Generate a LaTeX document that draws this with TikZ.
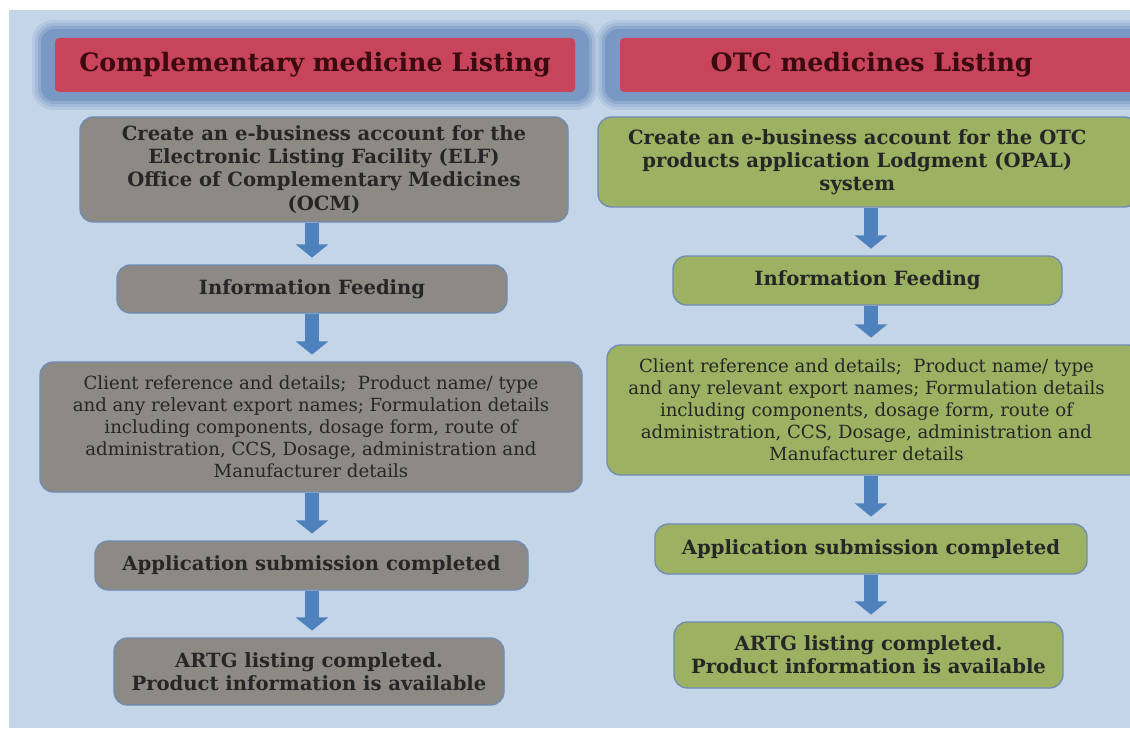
\documentclass[tikz,border=0pt]{standalone}
\usepackage{fontspec}
\setmainfont{DejaVu Serif}
\usetikzlibrary{arrows.meta}
\tikzset{every picture/.style={line width=0.75pt}}

\definecolor{bgblue}{RGB}{197,213,232}
\definecolor{glowblue}{RGB}{112,146,192}
\definecolor{titlered}{RGB}{200,68,90}
\definecolor{titletext}{RGB}{58,10,16}
\definecolor{stepgray}{RGB}{141,138,134}
\definecolor{stepgreen}{RGB}{156,178,98}
\definecolor{edgeblue}{RGB}{110,140,180}
\definecolor{arrowblue}{RGB}{79,129,189}

\tikzset{
  titlebox/.style={fill=titlered, rounded corners=3pt, inner sep=0pt, text=titletext,
    font=\fontsize{19}{22}\selectfont\bfseries},
  graybox/.style={fill=stepgray, draw=edgeblue, line width=1pt, rounded corners=10pt, inner sep=0pt,
    align=center, text=black!85},
  greenbox/.style={graybox, fill=stepgreen},
  boldtxt/.style={font=\fontsize{14.7}{17.3}\selectfont\bfseries},
  plaintxt/.style={font=\fontsize{13.6}{16.5}\selectfont},
  flow/.style={draw=arrowblue, line width=10pt, shorten >=5pt,
    -{Triangle[length=10pt,width=24pt,fill=arrowblue]}}
}

\begin{document}
\begin{tikzpicture}[x=0.75pt,y=0.75pt,yscale=-1,xscale=1]
\useasboundingbox (0,0) rectangle (1130,734);
\clip (0,0) rectangle (1130,734);
% background panel
\fill[bgblue] (9,10) rectangle (1130,728);

% title glows, outer layers first
\foreach \g/\m/\r in {4/20/16, 7/40/14, 10/65/12, 13/90/10}{
  \fill[glowblue!\m!bgblue, rounded corners=\r pt] (28+\g,16+\g) rectangle (602-\g,114-\g);
  \fill[glowblue!\m!bgblue, rounded corners=\r pt] (592+\g,16+\g) rectangle (1160,114-\g);
}

% titles
\node[titlebox, minimum width=390pt, minimum height=40.5pt] (t1) at (315,65) {Complementary medicine Listing};
\node[titlebox, minimum width=397.5pt, minimum height=40.5pt] (t2) at (885,65) {\hspace*{-20pt}OTC medicines Listing};

% left column
\node[graybox, boldtxt, minimum width=366pt, minimum height=78.75pt] (l1) at (324,169.5)
  {Create an e-business account for the\\Electronic Listing Facility (ELF)\\Office of Complementary Medicines\\(OCM)};
\node[graybox, boldtxt, minimum width=292.5pt, minimum height=36pt] (l2) at (312,289) {Information Feeding};
\node[graybox, plaintxt, minimum width=406.5pt, minimum height=97.5pt] (l3) at (311,427)
  {Client reference and details;\ \ Product name/\ type\\and any relevant export names;\ Formulation details\\including components, dosage form, route of\\administration, CCS, Dosage, administration and\\Manufacturer\ details};
\node[graybox, boldtxt, minimum width=324.75pt, minimum height=36.75pt] (l4) at (311.5,565.5) {Application submission completed};
\node[graybox, boldtxt, minimum width=292.5pt, minimum height=50.25pt] (l5) at (309,671.5)
  {ARTG listing completed.\\Product information is available};

% right column
\node[greenbox, boldtxt, minimum width=405pt, minimum height=67.5pt] (r1) at (868,162)
  {\hspace*{-16pt}Create an e-business account for the OTC\\\hspace*{-16pt}products application Lodgment (OPAL)\\\hspace*{-16pt}system};
\node[greenbox, boldtxt, minimum width=291.75pt, minimum height=36.75pt] (r2) at (867.5,280.5) {Information Feeding};
\node[greenbox, plaintxt, minimum width=401.25pt, minimum height=97.5pt] (r3) at (874.5,410)
  {\hspace*{-12pt}Client reference and details;\ \ Product name/\ type\\\hspace*{-12pt}and any relevant export names;\ Formulation details\\\hspace*{-12pt}including components, dosage form, route of\\\hspace*{-12pt}administration, CCS, Dosage, administration and\\\hspace*{-12pt}Manufacturer\ details};
\node[greenbox, boldtxt, minimum width=324pt, minimum height=37.5pt] (r4) at (871,549) {Application submission completed};
\node[greenbox, boldtxt, minimum width=291.75pt, minimum height=49.5pt] (r5) at (868.5,655)
  {ARTG listing completed.\\Product information is available};

% arrows
\draw[flow] (l1.south -| l2) -- (l2.north);
\draw[flow] (l2.south) -- (l3.north -| l2);
\draw[flow] (l3.south -| l2) -- (l4.north -| l2);
\draw[flow] (l4.south -| l2) -- (l5.north -| l2);
\draw[flow] (r1.south -| r4) -- (r2.north -| r4);
\draw[flow] (r2.south -| r4) -- (r3.north -| r4);
\draw[flow] (r3.south -| r4) -- (r4.north);
\draw[flow] (r4.south) -- (r5.north -| r4);

\end{tikzpicture}
\end{document}
